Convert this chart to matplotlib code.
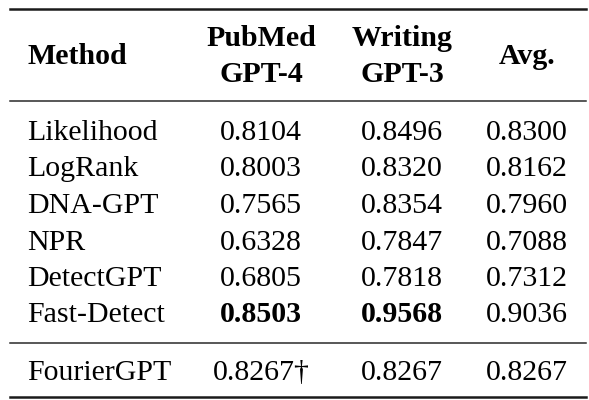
import matplotlib
matplotlib.use("Agg")
import matplotlib.pyplot as plt

methods = ["Likelihood", "LogRank", "DNA-GPT", "NPR", "DetectGPT", "Fast-Detect", "FourierGPT"]
pubmed = [0.8104, 0.8003, 0.7565, 0.6328, 0.6805, 0.8503, 0.8267]
writing = [0.8496, 0.8320, 0.8354, 0.7847, 0.7818, 0.9568, 0.8267]
avg = [0.8300, 0.8162, 0.7960, 0.7088, 0.7312, 0.9036, 0.8267]
# bold = best per column, dagger note on FourierGPT pubmed
bold_pub = [False, False, False, False, False, True, False]
bold_wri = [False, False, False, False, False, True, False]
dagger_pub = [False, False, False, False, False, False, True]

plt.rcParams["font.family"] = ["Liberation Serif", "DejaVu Serif"]
fs = 21.5

fig = plt.figure(figsize=(5.89, 4.00), dpi=100)
ax = fig.add_axes([0, 0, 1, 1])
ax.set_xlim(0, 589)
ax.set_ylim(400, 0)
ax.axis("off")

x_method, x_pub, x_wri, x_avg = 27, 261, 402, 527

# rules
ax.plot([10, 586], [9, 9], color="#1a1a1a", lw=1.8)
ax.plot([10, 586], [101, 101], color="#2a2a2a", lw=1.1)
ax.plot([10, 586], [343, 343], color="#2a2a2a", lw=1.1)
ax.plot([10, 586], [396.5, 396.5], color="#1a1a1a", lw=1.8)

# header
ax.text(x_method, 64.5, "Method", fontsize=fs, fontweight="bold", ha="left", va="baseline")
ax.text(x_pub, 46.5, "PubMed", fontsize=fs, fontweight="bold", ha="center", va="baseline")
ax.text(x_pub, 81.5, "GPT-4", fontsize=fs, fontweight="bold", ha="center", va="baseline")
ax.text(x_wri, 46.5, "Writing", fontsize=fs, fontweight="bold", ha="center", va="baseline")
ax.text(x_wri, 81.5, "GPT-3", fontsize=fs, fontweight="bold", ha="center", va="baseline")
ax.text(x_avg, 64.5, "Avg.", fontsize=fs, fontweight="bold", ha="center", va="baseline")

baselines = [140, 176.5, 213, 249.5, 286, 322.5, 379.5]
for i, m in enumerate(methods):
    y = baselines[i]
    ax.text(x_method, y, m, fontsize=fs, ha="left", va="baseline")
    s = f"{pubmed[i]:.4f}" + ("†" if dagger_pub[i] else "")
    ax.text(x_pub, y, s, fontsize=fs, ha="center", va="baseline",
            fontweight="bold" if bold_pub[i] else "normal")
    ax.text(x_wri, y, f"{writing[i]:.4f}", fontsize=fs, ha="center", va="baseline",
            fontweight="bold" if bold_wri[i] else "normal")
    ax.text(x_avg, y, f"{avg[i]:.4f}", fontsize=fs, ha="center", va="baseline")

fig.savefig("out.png", dpi=100, facecolor="white")
